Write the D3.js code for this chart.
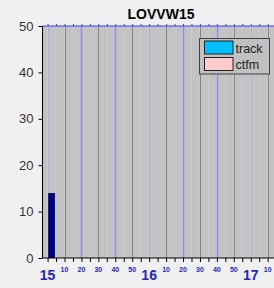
<!DOCTYPE html>
<html>
<head>
<meta charset="utf-8">
<script src="https://cdn.jsdelivr.net/npm/d3@7"></script>
<style>
  body { margin: 0; background: #f0f0f0; }
  svg { display: block; font-family: Arial, "Liberation Sans", sans-serif; }
</style>
</head>
<body>
<div id="chart"></div>
<script>
// data
var title = "LOVVW15";
var binTimes = ["15:00"];          // 5 minute bins
var trackValues = [14];
var ctfmValues = [0];
var seriesNames = ["track", "ctfm"];
var seriesColors = ["#00bfff", "#ffcccc"];
var yTicks = [0, 10, 20, 30, 40, 50];

var w = 274, h = 288;
var margin = {left: 42.5, top: 26, bottom: 30};

var svg = d3.select("#chart").append("svg")
  .attr("width", w).attr("height", h);

var parse = d3.timeParse("%H:%M");
var t0 = parse("14:57"), t1 = parse("17:20");

//SCALES
var xScale = d3.scaleTime()
  .domain([t0, t1])
  .range([margin.left, margin.left + (t1 - t0) / 60000 * 1.693]);

var yScale = d3.scaleLinear()
  .domain([0, 50])
  .range([h - margin.bottom, margin.top]);

var plotW = xScale.range()[1] - margin.left;
var plotH = yScale(0) - yScale(50);

// plot background
svg.append("rect")
  .attr("x", margin.left).attr("y", margin.top)
  .attr("width", plotW).attr("height", plotH)
  .attr("fill", "#c0c0c0");

//GRID
var fiveMin = d3.timeMinute.every(5).range(t0, t1);
svg.append("g").selectAll("line")
  .data(d3.timeMinute.every(1).range(t0, t1))
  .enter().append("line")
  .attr("x1", d => xScale(d)).attr("x2", d => xScale(d))
  .attr("y1", margin.top).attr("y2", yScale(0))
  .attr("stroke", d => d.getMinutes() % 5 == 0 ? "#cdcdcd" : "#c5c5c5")
  .attr("stroke-width", 1);

var tenMin = d3.timeMinute.every(10).range(t0, t1);
svg.append("g").selectAll("line")
  .data(tenMin)
  .enter().append("line")
  .attr("x1", d => Math.round(xScale(d)) + 0.5).attr("x2", d => Math.round(xScale(d)) + 0.5)
  .attr("y1", margin.top).attr("y2", yScale(0))
  .attr("stroke-width", d => (d.getMinutes() == 20 || d.getMinutes() == 40) ? 1.5 : 1)
  .attr("stroke", function(d) {
    var m = d.getMinutes();
    if (m == 0) return "#b0b0e0";
    if (m == 20 || m == 40) return "#8e8ef0";
    return "#858585";
  });

//BARS
var barW = 4 * 60000;
svg.append("g").selectAll("rect")
  .data(binTimes.map((t, i) => ({t: parse(t), v: trackValues[i]})))
  .enter().append("rect")
  .attr("x", d => xScale(d.t) + 0.6)
  .attr("width", d => xScale(new Date(+d.t + barW)) - xScale(d.t))
  .attr("y", d => yScale(d.v))
  .attr("height", d => yScale(0) - yScale(d.v))
  .attr("fill", "#000080");

//AXES
var yAxis = d3.axisLeft(yScale).tickValues(yTicks).tickSize(4).tickPadding(5);
var gy = svg.append("g")
  .attr("transform", "translate(" + margin.left + ",0)")
  .call(yAxis);
gy.select(".domain").attr("stroke", "#000").attr("d", "M0," + yScale(0) + "V" + margin.top);
gy.selectAll("text").attr("font-size", 13).attr("fill", "#333").attr("font-family", "Arial");

var xAxis = d3.axisBottom(xScale).tickValues(fiveMin).tickSize(4).tickFormat("");
var gx = svg.append("g")
  .attr("transform", "translate(0," + yScale(0) + ")")
  .call(xAxis);
gx.select(".domain").attr("stroke", "#000").attr("d", "M" + margin.left + ",0H" + w);

// top border with small ticks
var xTop = d3.axisTop(xScale).tickValues(fiveMin).tickSize(2).tickFormat("");
var gt = svg.append("g")
  .attr("transform", "translate(0," + margin.top + ")")
  .call(xTop);
gt.select(".domain").attr("stroke", "#3c3cff").attr("d", "M" + margin.left + ",0H" + w);
gt.selectAll(".tick line").attr("stroke", "#3c3cff");

// tick labels: hours large, minutes small
var labelG = svg.append("g").attr("fill", "#2424c8").attr("font-weight", "bold")
  .attr("text-anchor", "middle");
labelG.selectAll("text")
  .data(tenMin.filter(d => d >= parse("15:00")))
  .enter().append("text")
  .attr("x", d => xScale(d))
  .attr("y", d => d.getMinutes() == 0 ? 280 : 272)
  .attr("font-size", d => d.getMinutes() == 0 ? 14 : 7)
  .text(d => d.getMinutes() == 0 ? d3.timeFormat("%H")(d) : d.getMinutes());

// title
svg.append("text")
  .attr("x", 161).attr("y", 19)
  .attr("text-anchor", "middle")
  .attr("font-weight", "bold").attr("font-size", 14)
  .text(title);

//LEGEND
var lg = svg.append("g");
lg.append("rect")
  .attr("x", 199.5).attr("y", 38.5).attr("width", 70).attr("height", 35.5)
  .attr("fill", "#c0c0c0").attr("stroke", "#404040");
seriesNames.forEach(function(name, i) {
  lg.append("rect")
    .attr("x", 204.5).attr("y", 41 + i * 16.5).attr("width", 28.5).attr("height", 13)
    .attr("fill", seriesColors[i]).attr("stroke", "#222");
  lg.append("text")
    .attr("x", 235.5).attr("y", 52.5 + i * 16.5)
    .attr("font-size", 12.5).attr("fill", "#222")
    .text(name);
});
</script>
</body>
</html>
